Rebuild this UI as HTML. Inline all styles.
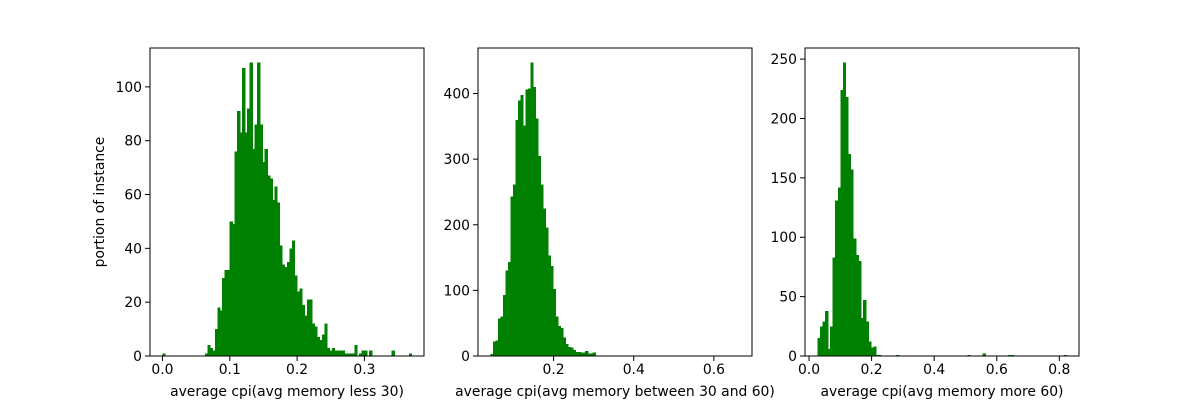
<!DOCTYPE html>
<html><head><meta charset="utf-8"><style>
html,body{margin:0;padding:0;background:#fff}
svg text{font-family:"DejaVu Sans","Liberation Sans",sans-serif;font-size:13.9px;fill:#000}
</style></head><body>
<svg id="chart" width="1200" height="400" viewBox="0 0 1200 400" xmlns="http://www.w3.org/2000/svg"></svg>
<script>
const countsLess30 = [1,0,0,0,0,0,0,0,0,0,0,0,0,0,0,0,0,
1,4,3,2,10,18,17,29,32,32,50,49,76,91,83,107,83,92,109,77,86,109,86,72,77,67,66,58,63,57,41,34,33,35,40,43,30,24,25,19,15,21,21,12,11,7,6,8,12,3,
2,3,2,2,2,2,1,1,1,1,4,0,1,2,2,0,2,0,0,0,0,0,0,0,0,2,0,0,0,0,0,0,1];
const counts30to60 = [3,22,24,57,60,93,130,143,243,261,360,389,398,351,406,408,447,410,362,305,261,225,196,153,137,102,60,46,43,28,18,14,13,9,6,6,5,5,8,4,4,5,0,0,0,
1,0,0,1,0,0,0,0,0,0,0,1,0,1,0,0,0,0,0,0,1,1,0,0,0,0,0,0,1,1,0,0,1,0,0,1,1,1,0,0,0,0,1,0,0,0,0,1,0,0,1,1,0,0,1];
const countsMore60 = [15,25,29,38,6,25,83,131,142,224,247,218,170,157,99,85,80,32,47,29,12,7,8,
1,1,0,0,0,0,0,0,1,0,0,0,0,0,0,0,0,0,0,0,0,0,0,0,0,0,0,0,0,0,0,0,0,0,0,0,1,0,0,0,0,0,2,0,0,0,0,0,0,0,0,0,1,1,0,0,0,0,0,0,0,0,0,0,0,0,0,0,0,0,0,0,0,0,1];
const dataRanges = [[0.0,0.37],[0.0425,0.664],[0.027,0.823]];
const xTicks1 = [0.0,0.1,0.2,0.3];
const xTicks2 = [0.2,0.4,0.6];
const xTicks3 = [0.0,0.2,0.4,0.6,0.8];
const yTicks1 = [0,20,40,60,80,100];
const yTicks2 = [0,100,200,300,400];
const yTicks3 = [0,50,100,150,200,250];
const xLabels = ["average cpi(avg memory less 30)","average cpi(avg memory between 30 and 60)","average cpi(avg memory more 60)"];

const NS="http://www.w3.org/2000/svg";
const svg=document.getElementById('chart');
function mk(tag,attrs,parent){const e=document.createElementNS(NS,tag);for(const k in attrs)e.setAttribute(k,attrs[k]);(parent||svg).appendChild(e);return e;}

const panels=[
 {left:150,counts:countsLess30,range:dataRanges[0],xt:xTicks1,yt:yTicks1,name:'less-30'},
 {left:478,counts:counts30to60,range:dataRanges[1],xt:xTicks2,yt:yTicks2,name:'30-to-60'},
 {left:805,counts:countsMore60,range:dataRanges[2],xt:xTicks3,yt:yTicks3,name:'more-60'}
];
const plotTop=48,plotBottom=356,W=274;
panels.forEach((p,pi)=>{
  const g=mk('g',{});
  
  
  const d0=p.range[0], d1=p.range[1], R=d1-d0;
  const x0=d0-0.05*R, x1=d1+0.05*R;
  const ymax=Math.max(...p.counts)*1.05;
  const X=v=>p.left+(v-x0)/(x1-x0)*W;
  const Y=v=>plotBottom-v/ymax*(plotBottom-plotTop);
  const bw=R/p.counts.length;
  p.counts.forEach((c,i)=>{
    if(c<=0)return;
    const a=X(d0+i*bw), b=X(d0+(i+1)*bw);
    const r=mk('rect',{x:a,y:Y(c),width:b-a+0.7,height:plotBottom-Y(c),fill:'#008000','shape-rendering':'crispEdges'},g);
    
    
  });
  const frame=mk('rect',{x:p.left,y:plotTop,width:W,height:plotBottom-plotTop,fill:'none',stroke:'#000','stroke-width':1},g);
  
  
  p.xt.forEach(t=>{
    const x=X(t);
    mk('line',{x1:x,x2:x,y1:plotBottom,y2:plotBottom+5,stroke:'#000','stroke-width':1},g);
    const tx=mk('text',{x:x,y:plotBottom+18,'text-anchor':'middle'},g);
    tx.textContent=t.toFixed(1);
    
    
  });
  p.yt.forEach(t=>{
    const y=Y(t);
    mk('line',{x1:p.left-5,x2:p.left,y1:y,y2:y,stroke:'#000','stroke-width':1},g);
    const tx=mk('text',{x:p.left-8,y:y+5,'text-anchor':'end'},g);
    tx.textContent=String(t);
    
    
  });
  const xl=mk('text',{x:p.left+W/2,y:396,'text-anchor':'middle'},g);
  xl.textContent=xLabels[pi];
  
  
});
const yl=mk('text',{x:0,y:0,'text-anchor':'middle',transform:'translate(104,202) rotate(-90)'});
yl.textContent='portion of instance';


</script>
</body></html>
